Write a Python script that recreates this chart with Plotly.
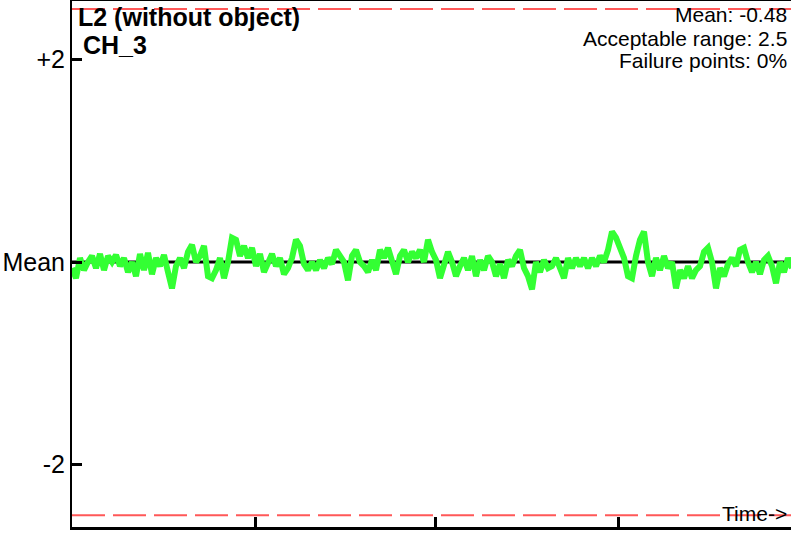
import plotly.graph_objects as go

# ---- data ----
mean_value = -0.48
acceptable_range = 2.5
failure_points_pct = 0
channel = "CH_3"
title = "L2 (without object)"

# deviation of channel reading from its mean (in chart units)
ch3_dev = [
    -0.06, -0.16, 0.04, -0.08, 0.00, 0.06, -0.06, 0.08, -0.08, 0.06,
    0.00, 0.07, -0.04, 0.04, -0.10, 0.00, -0.14, 0.08, -0.08, 0.09,
    -0.12, 0.04, -0.04, 0.07, -0.10, -0.26, -0.04, 0.04, -0.06, 0.10,
    0.17, 0.00, 0.06, 0.16, -0.14, -0.16, -0.08, 0.04, -0.16, 0.00,
    0.24, 0.22, 0.06, 0.16, 0.04, 0.14, -0.04, 0.08, -0.10, 0.00,
    0.08, -0.04, 0.04, -0.12, -0.06, 0.04, 0.22, 0.16, -0.02, -0.08,
    0.00, -0.08, 0.02, -0.06, 0.04, -0.02, 0.12, 0.06, 0.00, -0.18,
    0.06, 0.12, 0.00, -0.04, -0.10, 0.02, -0.08, 0.12, 0.04, 0.14,
    0.00, -0.12, 0.06, 0.12, 0.00, 0.10, 0.04, 0.12, 0.00, 0.22,
    0.10, 0.02, -0.16, -0.02, 0.10, 0.00, -0.14, -0.04, 0.04, -0.08,
    0.06, -0.14, 0.02, -0.08, 0.06, 0.00, -0.14, -0.02, -0.16, 0.02,
    -0.04, 0.06, 0.12, -0.06, -0.14, -0.27, 0.00, -0.10, 0.02, -0.06,
    -0.04, 0.04, -0.08, -0.16, 0.04, -0.06, 0.04, -0.04, 0.04, -0.06,
    0.04, -0.04, 0.06, 0.00, 0.12, 0.30, 0.24, 0.12, 0.04, -0.14,
    -0.16, 0.06, 0.22, 0.30, 0.00, -0.14, 0.04, -0.08, 0.06, -0.06,
    0.00, -0.26, -0.08, -0.16, -0.04, -0.16, -0.08, -0.04, 0.10, 0.14,
    0.00, -0.26, -0.06, -0.14, -0.02, 0.04, -0.04, 0.12, 0.14, 0.00,
    -0.10, 0.00, -0.12, 0.02, 0.06, -0.04, -0.21, 0.00, -0.10, 0.04,
    -0.06,
]
time_idx = list(range(len(ch3_dev)))

y_tick_vals = [2, 0, -2]
y_tick_text = ["+2", "Mean", "-2"]
x_tick_vals = [0, 45.75, 90.75, 136.5]
x_max = 179.75

FONT = "Liberation Sans, Arial, sans-serif"

fig = go.Figure()

# acceptable range limits
for lim in (acceptable_range, -acceptable_range):
    fig.add_trace(go.Scatter(
        x=[0, x_max], y=[lim, lim], mode="lines",
        line=dict(color="rgba(255,70,70,0.9)", width=2, dash="33px,8px"),
        hoverinfo="skip"))

# mean line
fig.add_trace(go.Scatter(
    x=[0, x_max], y=[0, 0], mode="lines",
    line=dict(color="black", width=3), hoverinfo="skip"))

# channel trace
fig.add_trace(go.Scatter(
    x=time_idx, y=ch3_dev, mode="lines",
    line=dict(color="#33ff33", width=6)))

fig.update_layout(
    width=791, height=539,
    margin=dict(l=72, r=0, t=0, b=12),
    plot_bgcolor="white", paper_bgcolor="white",
    showlegend=False,
    font=dict(family=FONT, color="black"),
)

fig.update_xaxes(
    range=[0, x_max], showgrid=False, zeroline=False,
    showline=True, linecolor="black", linewidth=3,
    ticks="inside", ticklen=10, tickwidth=3, tickcolor="black",
    tickvals=x_tick_vals, showticklabels=False,
)
fig.update_yaxes(
    range=[-2.617, 2.588], showgrid=False, zeroline=False,
    showline=True, linecolor="black", linewidth=2,
    ticks="inside", ticklen=10, tickwidth=3, tickcolor="black",
    tickvals=y_tick_vals, ticktext=y_tick_text,
    tickfont=dict(size=25, family=FONT, color="black"),
    ticklabelstandoff=0,
)

# top border
fig.add_shape(type="line", xref="paper", yref="paper", x0=0, x1=1, y0=1, y1=1,
              line=dict(color="black", width=2))

H = 527.0
def py(px):
    return 1 - px / H

fig.add_annotation(text=f"<b>{title}</b>", xref="paper", yref="paper",
                   x=0.005, y=py(17), xanchor="left", yanchor="middle",
                   showarrow=False, font=dict(size=25, family=FONT))
fig.add_annotation(text=f"<b>{channel}</b>", xref="paper", yref="paper",
                   x=0.013, y=py(45), xanchor="left", yanchor="middle",
                   showarrow=False, font=dict(size=25, family=FONT))

right_lines = [f"Mean: {mean_value}", f"Acceptable range: {acceptable_range}",
               f"Failure points: {failure_points_pct}%"]
for txt, ypx in zip(right_lines, [15, 38, 61]):
    fig.add_annotation(text=txt, xref="paper", yref="paper",
                       x=0.997, y=py(ypx), xanchor="right", yanchor="middle",
                       showarrow=False, font=dict(size=21, family=FONT))

fig.add_annotation(text="Time->", xref="paper", yref="paper",
                   x=0.997, y=py(513), xanchor="right", yanchor="middle",
                   showarrow=False, font=dict(size=21, family=FONT))

fig.write_html("out.html", config={"displayModeBar": False},
               post_script="document.body.style.margin='0';document.body.style.overflow='hidden';")
